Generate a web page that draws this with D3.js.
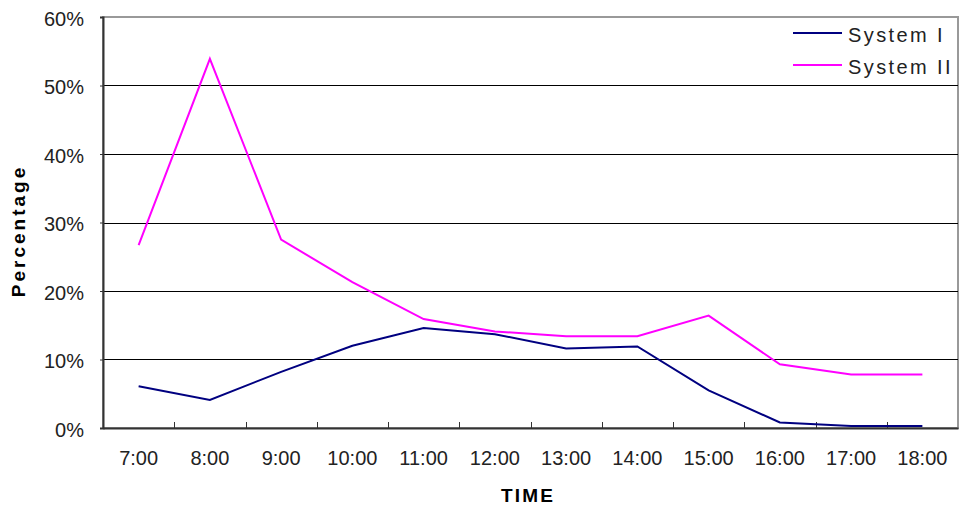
<!DOCTYPE html>
<html>
<head>
<meta charset="utf-8">
<script src="https://cdn.jsdelivr.net/npm/d3@7"></script>
<style>
  html, body { margin: 0; padding: 0; background: #fff; }
  svg { display: block; }
  text { font-family: "Liberation Sans", Arial, sans-serif; }
</style>
</head>
<body>
<svg id="chart" width="962" height="508"></svg>
<script>
// Hourly share of activity for two systems, 7:00 – 18:00
const times = ["7:00", "8:00", "9:00", "10:00", "11:00", "12:00", "13:00", "14:00", "15:00", "16:00", "17:00", "18:00"];
const systemI  = [0.061, 0.041, 0.082, 0.120, 0.146, 0.137, 0.116, 0.119, 0.055, 0.008, 0.003, 0.003];
const systemII = [0.267, 0.539, 0.275, 0.213, 0.159, 0.141, 0.134, 0.134, 0.164, 0.093, 0.078, 0.078];
const yTicks = [0, 0.1, 0.2, 0.3, 0.4, 0.5, 0.6];
const seriesNames = ["System I", "System II"];
const seriesColors = ["#000080", "#ff00ff"];

const svg = d3.select("#chart");
const plotLeft = 103, plotRight = 958, plotTop = 17, plotBottom = 428;

const x = d3.scaleBand().domain(times).range([plotLeft, plotRight]).padding(0);
const y = d3.scaleLinear().domain([0, 0.6]).range([plotBottom, plotTop]);
const cx = d => x(d) + x.bandwidth() / 2;

// plot frame (light border on top/right)
svg.append("rect")
  .attr("x", plotLeft).attr("y", plotTop)
  .attr("width", plotRight - plotLeft).attr("height", plotBottom - plotTop)
  .attr("fill", "none").attr("stroke", "#999").attr("stroke-width", 2);

// horizontal gridlines
svg.append("g")
  .selectAll("line")
  .data(yTicks.filter(v => v > 0 && v < 0.6))
  .join("line")
  .attr("x1", plotLeft).attr("x2", plotRight)
  .attr("y1", d => Math.round(y(d)) + 0.5).attr("y2", d => Math.round(y(d)) + 0.5)
  .attr("stroke", "#000").attr("stroke-width", 1);

// y axis
const yAxis = svg.append("g")
  .attr("transform", `translate(${plotLeft},0)`)
  .call(d3.axisLeft(y).tickValues(yTicks).tickFormat(d3.format(".0%")).tickSize(3).tickPadding(16));
yAxis.select(".domain").attr("stroke", "#333").attr("stroke-width", 2);
yAxis.selectAll(".tick line").attr("stroke", "#333");
yAxis.selectAll(".tick text")
  .attr("font-size", 20).attr("fill", "#222")
  .attr("font-family", "'Liberation Sans', Arial, sans-serif")
  .attr("dy", "0.42em");

// x axis: labels centred on categories
const xAxis = svg.append("g")
  .attr("transform", `translate(0,${plotBottom})`)
  .call(d3.axisBottom(x).tickSize(0).tickPadding(23));
xAxis.select(".domain").attr("stroke", "#333").attr("stroke-width", 2);
xAxis.selectAll(".tick text")
  .attr("font-size", 20).attr("fill", "#222")
  .attr("font-family", "'Liberation Sans', Arial, sans-serif");

// x tick marks at category boundaries, pointing inward
svg.append("g")
  .selectAll("line")
  .data(times.slice(1))
  .join("line")
  .attr("x1", d => Math.round(x(d)) + 0.5).attr("x2", d => Math.round(x(d)) + 0.5)
  .attr("y1", plotBottom).attr("y2", plotBottom - 6)
  .attr("stroke", "#333").attr("stroke-width", 1);

// series lines
const line = d3.line().x((d, i) => cx(times[i])).y(d => y(d));
[systemI, systemII].forEach((vals, k) => {
  svg.append("path")
    .datum(vals)
    .attr("d", line)
    .attr("fill", "none")
    .attr("stroke", seriesColors[k])
    .attr("stroke-width", 2)
    .attr("stroke-linejoin", "miter");
});

// axis titles
svg.append("text")
  .attr("x", 528).attr("y", 502)
  .attr("text-anchor", "middle")
  .attr("font-size", 19).attr("font-weight", "bold")
  .attr("letter-spacing", 2.2)
  .text("TIME");

svg.append("text")
  .attr("transform", "translate(25,231) rotate(-90)")
  .attr("text-anchor", "middle")
  .attr("font-size", 19).attr("font-weight", "bold")
  .attr("letter-spacing", 3)
  .text("Percentage");

// legend
const legend = svg.append("g");
seriesNames.forEach((name, k) => {
  const ly = 33 + k * 32;
  legend.append("line")
    .attr("x1", 793).attr("x2", 842)
    .attr("y1", ly).attr("y2", ly)
    .attr("stroke", seriesColors[k]).attr("stroke-width", 2);
  legend.append("text")
    .attr("x", 848).attr("y", ly + 9)
    .attr("font-size", 20).attr("fill", "#222")
    .attr("letter-spacing", 2.4)
    .text(name);
});
</script>
</body>
</html>
